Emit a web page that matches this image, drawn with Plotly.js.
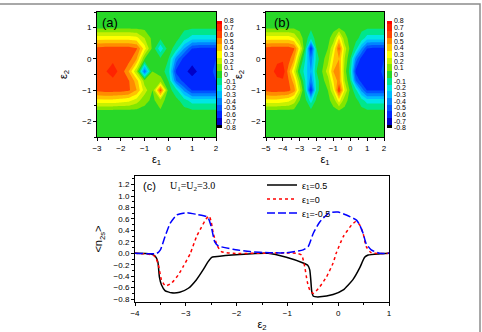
<!DOCTYPE html>
<html><head><meta charset="utf-8">
<script src="https://cdn.plot.ly/plotly-3.0.1.min.js"></script>
<style>html,body{margin:0;padding:0;background:#fff}#chart{width:482px;height:332px}</style>
</head><body><div id="chart"></div><script>
// ---------- data ----------
// grid rows listed from top (eps2 = 1.5) to bottom (eps2 = -2.5)
const gridY = [1.5, 1.0, 0.667, 0.333, 0, -0.4, -0.7, -1.0, -1.333, -1.667, -2.0, -2.5];

const aX = [-3, -2.667, -2.333, -2, -1.667, -1.333, -1, -0.667, -0.333, 0, 0.333, 0.667, 1, 1.333, 1.667, 2];
const aZ = [
  [0.02,0.02,0.02,0.02,0.02,0.02,0.02,0.02,0.01,0.0,-0.01,-0.02,-0.02,-0.02,-0.02,-0.02],
  [0.03,0.03,0.03,0.03,0.03,0.02,0.02,0.02,0.0,0.0,-0.02,-0.03,-0.03,-0.03,-0.03,-0.03],
  [0.3,0.3,0.3,0.3,0.3,0.28,0.15,0.02,-0.03,0.0,-0.02,-0.1,-0.2,-0.2,-0.2,-0.2],
  [0.58,0.6,0.6,0.6,0.6,0.56,0.3,0.02,-0.22,0.0,-0.1,-0.35,-0.55,-0.58,-0.58,-0.58],
  [0.62,0.63,0.63,0.62,0.6,0.45,0.05,0.02,-0.03,-0.05,-0.4,-0.6,-0.62,-0.62,-0.6,-0.55],
  [0.62,0.64,0.69,0.62,0.45,0.15,-0.45,0.05,0.0,-0.1,-0.58,-0.63,-0.68,-0.63,-0.62,-0.5],
  [0.62,0.63,0.63,0.62,0.56,0.4,0.1,0.05,0.1,-0.05,-0.45,-0.6,-0.62,-0.62,-0.6,-0.55],
  [0.58,0.6,0.6,0.6,0.57,0.45,0.2,0.05,0.6,0.0,-0.12,-0.38,-0.56,-0.56,-0.56,-0.56],
  [0.32,0.32,0.32,0.3,0.28,0.2,0.08,0.03,0.1,0.0,-0.02,-0.1,-0.2,-0.2,-0.2,-0.2],
  [0.02,0.02,0.02,0.02,0.02,0.02,0.02,0.03,0.04,0.02,0.0,-0.02,-0.03,-0.03,-0.03,-0.03],
  [0.02,0.02,0.02,0.02,0.02,0.02,0.03,0.04,0.04,0.03,0.01,0.0,-0.01,-0.01,-0.01,-0.01],
  [0.02,0.02,0.02,0.02,0.02,0.02,0.03,0.04,0.04,0.03,0.02,0.01,0.0,0.0,0.0,0.0]
];

const bX = [-5, -4.667, -4.333, -4, -3.667, -3.333, -3, -2.667, -2.333, -2, -1.667, -1.333, -1, -0.667, -0.333, 0, 0.333, 0.667, 1, 1.333, 1.667, 2];
const bZ = [
  [0.02,0.02,0.02,0.02,0.02,0.02,0.02,0.0,-0.02,0.0,0.02,0.02,0.02,0.03,0.02,0.02,0.0,-0.02,-0.02,-0.02,-0.02,-0.02],
  [0.03,0.03,0.03,0.03,0.03,0.03,0.02,0.0,-0.03,0.0,0.02,0.02,0.03,0.04,0.03,0.02,0.0,-0.03,-0.03,-0.03,-0.03,-0.03],
  [0.3,0.3,0.3,0.3,0.3,0.25,0.1,0.0,-0.12,0.0,0.02,0.03,0.08,0.35,0.08,0.02,-0.02,-0.08,-0.2,-0.2,-0.2,-0.2],
  [0.58,0.6,0.6,0.6,0.6,0.56,0.3,-0.05,-0.62,-0.05,0.02,0.05,0.25,0.58,0.2,0.02,-0.1,-0.35,-0.55,-0.58,-0.58,-0.58],
  [0.62,0.63,0.63,0.63,0.6,0.45,0.1,-0.15,-0.42,-0.1,0.02,0.1,0.35,0.45,0.15,-0.05,-0.4,-0.6,-0.62,-0.62,-0.6,-0.55],
  [0.62,0.63,0.68,0.72,0.5,0.25,-0.05,-0.2,-0.35,-0.05,0.05,0.2,0.45,0.5,0.1,-0.1,-0.58,-0.62,-0.63,-0.62,-0.6,-0.5],
  [0.62,0.63,0.63,0.63,0.56,0.4,0.1,-0.15,-0.42,-0.1,0.02,0.1,0.35,0.5,0.15,-0.05,-0.45,-0.6,-0.62,-0.62,-0.6,-0.55],
  [0.58,0.6,0.6,0.6,0.58,0.5,0.2,-0.1,-0.62,-0.1,0.02,0.05,0.25,0.65,0.25,0.02,-0.12,-0.38,-0.56,-0.56,-0.56,-0.56],
  [0.32,0.32,0.32,0.3,0.28,0.2,0.05,-0.02,-0.2,-0.02,0.02,0.03,0.08,0.3,0.08,0.02,-0.02,-0.1,-0.2,-0.2,-0.2,-0.2],
  [0.02,0.02,0.02,0.02,0.02,0.02,0.02,0.0,-0.02,0.0,0.02,0.02,0.03,0.04,0.03,0.02,0.0,-0.02,-0.03,-0.03,-0.03,-0.03],
  [0.02,0.02,0.02,0.02,0.02,0.02,0.02,0.01,0.0,0.01,0.02,0.02,0.03,0.03,0.03,0.02,0.01,0.0,-0.01,-0.01,-0.01,-0.01],
  [0.02,0.02,0.02,0.02,0.02,0.02,0.02,0.02,0.01,0.02,0.02,0.02,0.03,0.03,0.03,0.02,0.02,0.01,0.0,0.0,0.0,0.0]
];

const cbVals = [0.8,0.7,0.6,0.5,0.4,0.3,0.2,0.1,0,-0.1,-0.2,-0.3,-0.4,-0.5,-0.6,-0.7,-0.8];
const cbText = ['0.8','0.7','0.6','0.5','0.4','0.3','0.2','0.1','0','-0.1','-0.2','-0.3','-0.4','-0.5','-0.6','-0.7','-0.8'];

// series for panel (c)
const s1Name = 'ε<sub>1</sub>=0.5';
const s1X = [-4,-3.7,-3.6,-3.55,-3.52,-3.48,-3.41,-3.28,-3.12,-2.95,-2.79,-2.66,-2.56,-2.49,-2.43,-1.94,-1.38,-1.02,-0.69,-0.6,-0.56,-0.54,-0.52,-0.49,-0.36,-0.1,0.1,0.29,0.42,0.52,0.59,0.8,1];
const s1Y = [0,-0.01,-0.05,-0.15,-0.41,-0.55,-0.65,-0.69,-0.68,-0.61,-0.46,-0.29,-0.145,-0.07,-0.06,-0.02,0,-0.07,-0.17,-0.21,-0.29,-0.46,-0.67,-0.75,-0.76,-0.72,-0.64,-0.46,-0.26,-0.07,-0.03,-0.01,0];

const s2Name = 'ε<sub>1</sub>=0';
const s2X = [-4,-3.64,-3.58,-3.54,-3.48,-3.4,-3.28,-3.15,-3.05,-2.91,-2.79,-2.69,-2.6,-2.54,-2.5,-2.46,-2.38,-2.3,-2.07,-0.82,-0.72,-0.66,-0.61,-0.56,-0.49,-0.36,-0.23,-0.1,-0.04,0.1,0.26,0.34,0.42,0.49,0.55,0.65,1];
const s2Y = [0,-0.03,-0.1,-0.2,-0.46,-0.57,-0.52,-0.38,-0.23,0,0.29,0.46,0.6,0.65,0.55,0.35,0.13,0.03,0,0,-0.03,-0.23,-0.49,-0.64,-0.7,-0.58,-0.41,-0.17,0,0.29,0.49,0.55,0.5,0.35,0.12,0.01,0];

const s3Name = 'ε<sub>1</sub>=-0.5';
const s3X = [-4,-3.57,-3.5,-3.41,-3.31,-3.18,-2.98,-2.79,-2.59,-2.54,-2.49,-2.43,-2.36,-2.07,-1.74,-1.35,-1.02,-0.69,-0.59,-0.49,-0.36,-0.17,0,0.16,0.36,0.42,0.49,0.55,0.65,0.82,1];
const s3Y = [0,0,0.06,0.29,0.52,0.67,0.71,0.68,0.64,0.58,0.43,0.2,0.13,0.07,0.03,0.01,0.01,0.06,0.12,0.35,0.55,0.71,0.72,0.67,0.58,0.5,0.35,0.17,0.06,0,0];

// ---------- style ----------
// band colours from -0.8 (black) up to 0.8 (red)
const bandColors = ['#000000','#0000c8','#0028ff','#0055ff','#0085ff','#00bbff','#00e6e6','#00e68c',
  '#28d728','#82e600','#c8f000','#ffff00','#ffc300','#ff8c00','#ff4600','#ff2300','#ff0000'];
const cscale = bandColors.map((c, k) => [k / 16, c]);

const F = 'Liberation Sans, Arial, sans-serif';
const px = v => v / 482, py = v => 1 - v / 332;

function cbar(xp) {
  return {x: px(xp), xanchor: 'left', y: py(74.5), yanchor: 'middle', len: 107/332, lenmode: 'fraction',
    thickness: 5, thicknessmode: 'pixels', outlinewidth: 0, xpad: 0, ypad: 0, ticks: '',
    tickvals: cbVals, ticktext: cbText, tickfont: {family: F, size: 7, color: '#000'}};
}
const cont = {start: -0.75, end: 0.75, size: 0.1, coloring: 'fill', showlines: false};

const traces = [
  {type: 'contour', x: aX, y: gridY.slice().reverse(), z: aZ.slice().reverse(), xaxis: 'x', yaxis: 'y',
   colorscale: cscale, autocontour: false, contours: cont, line: {width: 0, smoothing: 0}, showlegend: false,
   hoverinfo: 'skip', colorbar: cbar(217)},
  {type: 'contour', x: bX, y: gridY.slice().reverse(), z: bZ.slice().reverse(), xaxis: 'x2', yaxis: 'y2',
   colorscale: cscale, autocontour: false, contours: cont, line: {width: 0, smoothing: 0}, showlegend: false,
   hoverinfo: 'skip', colorbar: cbar(387)},
  {type: 'scatter', mode: 'lines', x: s1X, y: s1Y, name: s1Name, xaxis: 'x3', yaxis: 'y3', legend: 'legend',
   line: {color: '#000', width: 1.5, shape: 'spline', smoothing: 0.5}},
  {type: 'scatter', mode: 'lines', x: s2X, y: s2Y, name: s2Name, xaxis: 'x3', yaxis: 'y3', legend: 'legend2',
   line: {color: '#ff0000', width: 1.5, dash: 'dot', shape: 'spline', smoothing: 0.5}},
  {type: 'scatter', mode: 'lines', x: s3X, y: s3Y, name: s3Name, xaxis: 'x3', yaxis: 'y3', legend: 'legend3',
   line: {color: '#0000ff', width: 1.5, dash: '8px,3px', shape: 'spline', smoothing: 0.5}}
];

function ax(extra) {
  return Object.assign({showgrid: false, zeroline: false, showline: true, linecolor: '#000', linewidth: 1,
    mirror: true, ticks: 'outside', ticklen: 3, tickcolor: '#000', tickfont: {family: F, size: 8, color: '#000'}}, extra);
}
const tf = {family: F, size: 11, color: '#000'};
function leg(yp) {
  return {x: px(262), y: py(yp), xanchor: 'left', yanchor: 'middle', bgcolor: 'rgba(0,0,0,0)',
    font: {family: F, size: 9, color: '#000'}, itemwidth: 30, tracegroupgap: 0};
}

const layout = {
  width: 482, height: 332, margin: {l: 0, r: 0, t: 0, b: 0},
  paper_bgcolor: '#fff', plot_bgcolor: '#fff',
  xaxis: ax({domain: [px(97), px(216)], range: [-3, 2], anchor: 'y', dtick: 1, tick0: 0,
    minor: {dtick: 0.5, ticks: 'outside', ticklen: 2, tickcolor: '#000'},
    title: {text: 'ε<sub>1</sub>', font: tf, standoff: 3}}),
  yaxis: ax({domain: [py(137), py(12)], range: [-2.5, 1.5], anchor: 'x', dtick: 1, tick0: 0,
    minor: {dtick: 0.5, ticks: 'outside', ticklen: 2, tickcolor: '#000'},
    title: {text: 'ε<sub>2</sub>', font: tf, standoff: 12}}),
  xaxis2: ax({domain: [px(266), px(384)], range: [-5, 2], anchor: 'y2', dtick: 1, tick0: 0,
    minor: {dtick: 0.5, ticks: 'outside', ticklen: 2, tickcolor: '#000'},
    title: {text: 'ε<sub>1</sub>', font: tf, standoff: 3}}),
  yaxis2: ax({domain: [py(137), py(12)], range: [-2.5, 1.5], anchor: 'x2', dtick: 1, tick0: 0,
    minor: {dtick: 0.5, ticks: 'outside', ticklen: 2, tickcolor: '#000'},
    title: {text: 'ε<sub>2</sub>', font: tf, standoff: 6}}),
  xaxis3: ax({domain: [px(135), px(389)], range: [-4, 1], anchor: 'y3', dtick: 1, tick0: 0,
    minor: {dtick: 0.5, ticks: 'outside', ticklen: 2, tickcolor: '#000'},
    title: {text: 'ε<sub>2</sub>', font: tf, standoff: 3}}),
  yaxis3: ax({domain: [py(302), py(176)], range: [-0.85, 1.35], anchor: 'x3', dtick: 0.2, tick0: 0,
    tickformat: '.1f', minor: {dtick: 0.1, ticks: 'outside', ticklen: 2, tickcolor: '#000'},
    title: {text: '&lt;n<sub>2s</sub>&gt;', font: tf, standoff: 8}}),
  showlegend: true,
  legend: leg(185), legend2: leg(199), legend3: leg(213),
  annotations: [
    {xref: 'paper', yref: 'paper', x: px(100), y: py(23), xanchor: 'left', yanchor: 'middle', showarrow: false,
     text: '(a)', font: {family: F, size: 13, color: '#000'}},
    {xref: 'paper', yref: 'paper', x: px(272), y: py(23), xanchor: 'left', yanchor: 'middle', showarrow: false,
     text: '(b)', font: {family: F, size: 13, color: '#000'}},
    {xref: 'paper', yref: 'paper', x: px(141), y: py(186), xanchor: 'left', yanchor: 'middle', showarrow: false,
     text: '(c)', font: {family: F, size: 11, color: '#000'}},
    {xref: 'paper', yref: 'paper', x: px(168), y: py(186), xanchor: 'left', yanchor: 'middle', showarrow: false,
     text: 'U<sub>1</sub>=U<sub>2</sub>=3.0', font: {family: 'Liberation Serif, Times New Roman, serif', size: 10, color: '#000'}}
  ],
  shapes: [
    {type: 'rect', xref: 'paper', yref: 'paper', x0: -0.02, x1: px(480), y0: -0.02, y1: py(4),
     line: {color: '#8c8c8c', width: 1.5}, fillcolor: 'rgba(0,0,0,0)'}
  ]
};

Plotly.newPlot('chart', traces, layout, {staticPlot: true, displayModeBar: false});
</script></body></html>
